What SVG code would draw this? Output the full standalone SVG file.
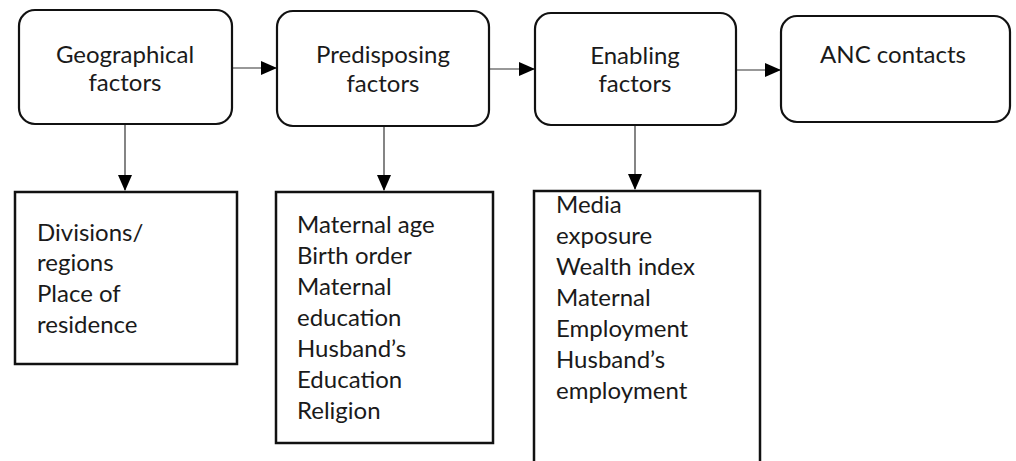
<svg xmlns="http://www.w3.org/2000/svg" width="1016" height="461" viewBox="0 0 1016 461">
<style>
.rbox{fill:#fff;stroke:#111;stroke-width:2.2}
.sbox{fill:#fff;stroke:#111;stroke-width:2.5}
.t{font-family:Lato,"Liberation Sans",sans-serif;font-size:24px;fill:#1a1a1a}
.c{text-anchor:middle}
.conn{stroke:#333;stroke-width:1.2;fill:none}
</style>
<defs>
<marker id="ah" markerWidth="16" markerHeight="14" refX="15" refY="7" orient="auto" markerUnits="userSpaceOnUse">
<path d="M0,0 L16,7 L0,14 Z" fill="#000"/>
</marker>
</defs>
<rect width="1016" height="461" fill="#fff"/>
<g id="connectors">
<line class="conn" x1="232" y1="68" x2="276" y2="68" marker-end="url(#ah)"/>
<line class="conn" x1="489" y1="69" x2="534" y2="69" marker-end="url(#ah)"/>
<line class="conn" x1="736" y1="70" x2="780" y2="70" marker-end="url(#ah)"/>
<line class="conn" x1="125" y1="124" x2="125" y2="190" marker-end="url(#ah)"/>
<line class="conn" x1="384" y1="126" x2="384" y2="190" marker-end="url(#ah)"/>
<line class="conn" x1="635" y1="125" x2="635" y2="189" marker-end="url(#ah)"/>
</g>
<g id="geographical">
<rect class="rbox" x="19" y="10" width="213" height="114" rx="16"/>
<text class="t c" x="125" y="63">Geographical</text>
<text class="t c" x="125" y="91">factors</text>
</g>
<g id="predisposing">
<rect class="rbox" x="277" y="11" width="212" height="115" rx="16"/>
<text class="t c" x="383" y="63">Predisposing</text>
<text class="t c" x="383" y="92">factors</text>
</g>
<g id="enabling">
<rect class="rbox" x="535" y="13" width="201" height="112" rx="16"/>
<text class="t c" x="635" y="64">Enabling</text>
<text class="t c" x="635" y="92">factors</text>
</g>
<g id="anc">
<rect class="rbox" x="781" y="16" width="229" height="106" rx="16"/>
<text class="t c" x="893" y="63">ANC contacts</text>
</g>
<g id="geo-list">
<rect class="sbox" x="15" y="192" width="222" height="172"/>
<text class="t" x="37" y="241">Divisions/</text>
<text class="t" x="37" y="271">regions</text>
<text class="t" x="37" y="302">Place of</text>
<text class="t" x="37" y="333">residence</text>
</g>
<g id="pred-list">
<rect class="sbox" x="276" y="192" width="217" height="251"/>
<text class="t" x="297" y="233">Maternal age</text>
<text class="t" x="297" y="264">Birth order</text>
<text class="t" x="297" y="295">Maternal</text>
<text class="t" x="297" y="326">education</text>
<text class="t" x="297" y="357">Husband’s</text>
<text class="t" x="297" y="388">Education</text>
<text class="t" x="297" y="419">Religion</text>
</g>
<g id="enab-list">
<rect class="sbox" x="534" y="191" width="226" height="280"/>
<text class="t" x="556" y="213">Media</text>
<text class="t" x="556" y="244">exposure</text>
<text class="t" x="556" y="275">Wealth index</text>
<text class="t" x="556" y="306">Maternal</text>
<text class="t" x="556" y="337">Employment</text>
<text class="t" x="556" y="368">Husband’s</text>
<text class="t" x="556" y="399">employment</text>
</g>
</svg>
